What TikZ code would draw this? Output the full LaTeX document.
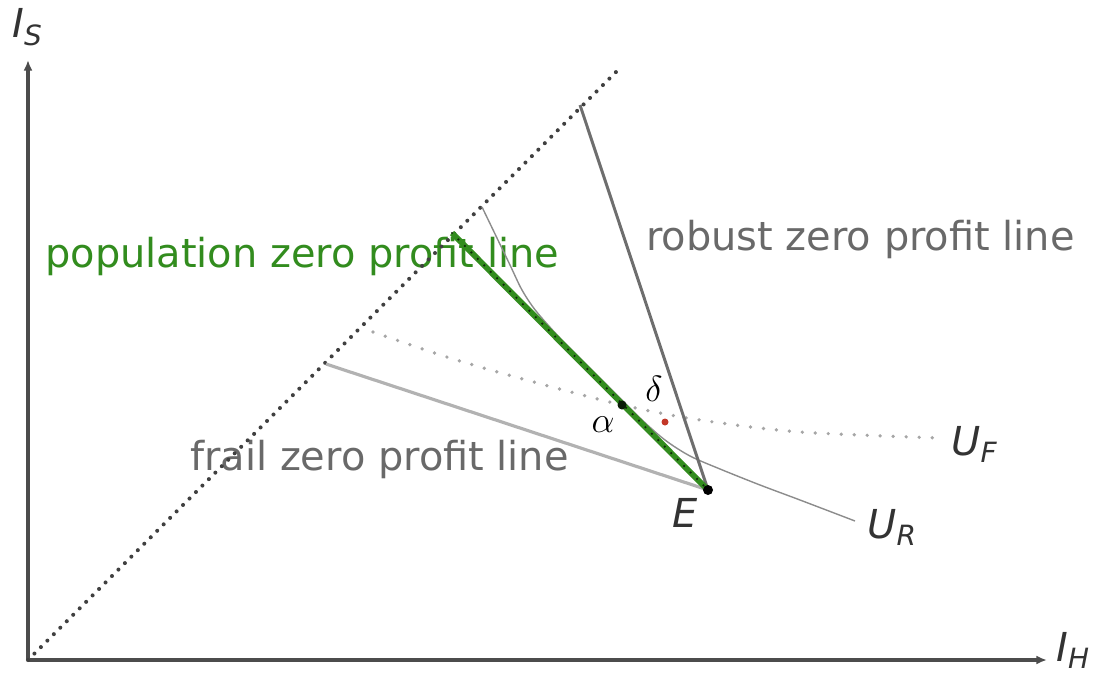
\documentclass[tikz,border=0pt]{standalone}
\usepackage{fontspec}
\setmainfont{DejaVu Sans}
\usetikzlibrary{arrows.meta}
\definecolor{popgreen}{RGB}{50,140,30}
\definecolor{robustgray}{RGB}{110,110,110}
\definecolor{frailgray}{RGB}{178,178,178}
\definecolor{textgray}{RGB}{105,105,105}
\definecolor{dotred}{RGB}{195,55,40}

\begin{document}
\begin{tikzpicture}[x=0.02cm,y=-0.02cm,
  every node/.style={font=\fontsize{22.7}{27}\selectfont,inner sep=0pt},
  axis/.style={line width=2pt,draw=black!70,-{Latex[length=6pt,width=5pt]}},
  dotline/.style={line width=2.3pt,line cap=round,dash pattern=on 0pt off 5.2pt}]
 \useasboundingbox (0,0) rectangle (1094,676);
 \coordinate (O) at (28,660);
 \coordinate (ytop) at (28,60);
 \coordinate (xend) at (1047,660);
 \coordinate (diag) at (622,66);
 \coordinate (E) at (708,490);
 \coordinate (robust) at (580,105);
 \coordinate (pop) at (452,233);
 \coordinate (frail) at (326,364);
 \coordinate (alpha) at (622,405);
 \coordinate (red) at (665,422);

 \node[anchor=base west,text=popgreen] (poplabel) at (45,267) {population zero profit line};
 \node[anchor=base west,text=textgray] (robustlabel) at (646,250) {robust zero profit line};
 \node[anchor=base west,text=textgray] (fraillabel) at (190,470) {frail zero profit line};

 \draw[axis] (O) -- (ytop);
 \draw[axis] (O) -- (xend);
 \draw[dotline,black!75] (O) -- (diag);

 \draw[line width=1.8pt,frailgray] (frail) -- (E);
 \draw[black!35,line cap=round,dash pattern=on 0pt off 7.4pt,line width=2.1pt]
  plot[smooth] coordinates {(373,332) (450,358) (530,381) (622,405) (700,420) (800,432) (940,438)};
 \draw[line width=0.8pt,black!45] plot[smooth] coordinates
  {(482,207) (496,236) (510,265) (522,290) (536,311) (560,338) (600,378) (640,418) (665,440) (690,456) (720,469) (760,485) (800,500) (855,521)};
 \draw[line width=1.7pt,robustgray] (robust) -- (E);
 \draw[line width=3.3pt,popgreen] (pop) -- (E);
 \draw[dotline,line width=1.4pt,black!70!popgreen] (pop) -- (E);

 \fill[black] (E) circle (5);
 \fill[black!80!popgreen] (alpha) circle (4.5);
 \fill[dotred] (red) circle (3.5);

 \node[anchor=base,text=black!80] (Elabel) at (685,527) {\itshape E};
 \node (alphalabel) at (603,425) {$\alpha$};
 \node (deltalabel) at (654,389) {$\delta$};
 \node[anchor=base west,text=black!80] (UF) at (951,455) {\itshape U\textsubscript{F}};
 \node[anchor=base west,text=black!80] (UR) at (867,538) {\itshape U\textsubscript{R}};
 \node[anchor=base west,text=black!80] (IS) at (12,37) {\itshape I\textsubscript{S}};
 \node[anchor=base west,text=black!80] (IH) at (1056,661) {\itshape I\textsubscript{H}};
\end{tikzpicture}
\end{document}
